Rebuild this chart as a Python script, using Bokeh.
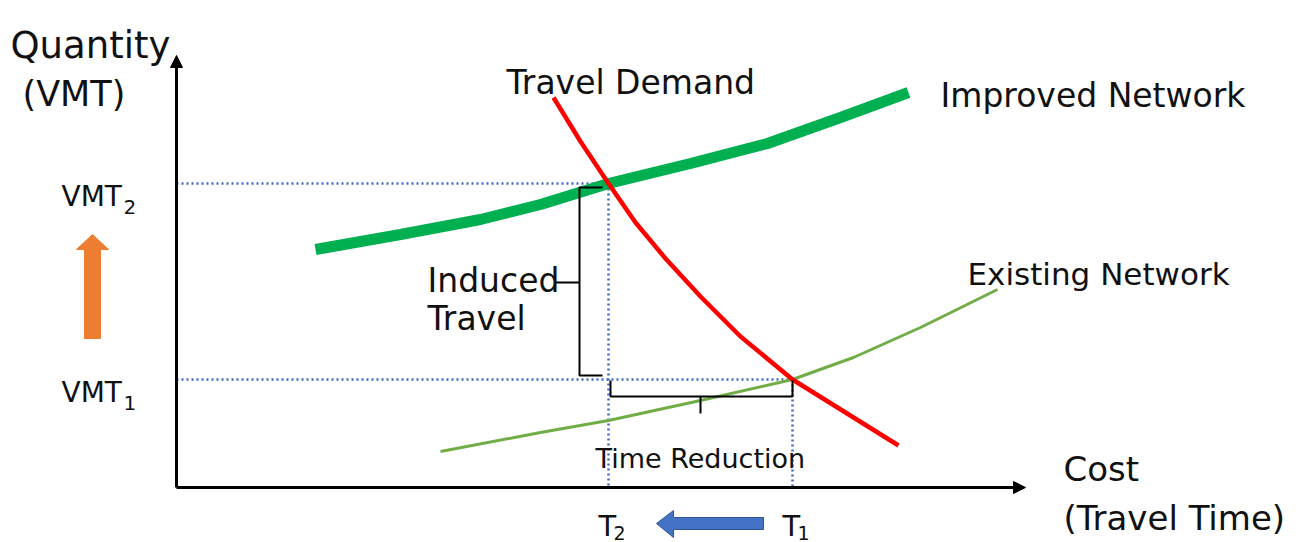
from bokeh.plotting import figure
from bokeh.models import Range1d, Arrow, NormalHead
from bokeh.core.properties import value
from bokeh.embed import file_html
from bokeh.resources import INLINE

# ---------------- data (cost = travel time, quantity = VMT) ----------------
improved_cost = [139, 224, 304, 364, 432, 514, 591, 664, 732]
improved_qty = [238, 253, 268, 283, 304, 324, 344, 370, 395]

demand_cost = [377, 404, 432, 459, 489, 524, 564, 616, 669, 722]
demand_qty = [390, 346, 304, 265, 229, 191, 151, 108, 75, 42]

existing_cost = [264, 364, 432, 524, 616, 677, 744, 821]
existing_qty = [36, 55, 67, 87, 108, 130, 160, 198]

T_levels = [432, 616]          # T2, T1
VMT_levels = [304, 108]        # VMT2, VMT1
T_labels = ["T", "T"]
T_subs = ["2", "1"]
VMT_labels = ["VMT", "VMT"]
VMT_subs = ["2", "1"]

axis_x_end = 849
axis_y_end = 432

FONT = value("DejaVu Sans")
TXT = "#111111"

W, H = 1310, 542
p = figure(width=W, height=H, x_range=Range1d(-176, -176 + W), y_range=Range1d(487 - H, 487),
           output_backend="svg", toolbar_location=None, min_border=0,
           x_axis_type=None, y_axis_type=None)
p.grid.visible = False
p.outline_line_color = None
p.background_fill_color = "white"
p.border_fill_color = "white"

# dotted guide lines
T2, T1 = T_levels
V2, V1 = VMT_levels
p.multi_line(xs=[[0, T2], [0, T1], [T2, T2], [T1, T1]],
             ys=[[V2, V2], [V1, V1], [V2, 0], [V1, 0]],
             line_color="#3F6AC0", line_width=2.5, line_dash="2 3")

# curves
p.line(existing_cost, existing_qty, line_color="#70AD47", line_width=3)
p.line(improved_cost, improved_qty, line_color="#00B050", line_width=11)
p.line(demand_cost, demand_qty, line_color="#FF0000", line_width=4.5, line_join="round")

# axes with arrow heads
p.add_layout(Arrow(x_start=0, y_start=0, x_end=0, y_end=axis_y_end, line_width=3, line_color="black",
                   end=NormalHead(size=12, fill_color="black", line_color="black")))
p.add_layout(Arrow(x_start=0, y_start=0, x_end=axis_x_end, y_end=0, line_width=3, line_color="black",
                   end=NormalHead(size=12, fill_color="black", line_color="black")))

# induced travel bracket
bx = T2 - 29
p.multi_line(xs=[[T2 - 6, bx, bx, T2 - 6], [bx, bx - 24]],
             ys=[[V2 - 4, V2 - 4, V1 + 4, V1 + 4], [205, 205]],
             line_color="black", line_width=2)
# time reduction bracket
by = V1 - 17
mid = (T2 + T1) / 2
p.multi_line(xs=[[T2 + 2, T2 + 2, T1, T1], [mid, mid]],
             ys=[[V1 - 1, by, by, V1 - 1], [by, by - 17]],
             line_color="black", line_width=2)

# orange block arrow (VMT increase)
p.patch(x=[-84, -68, -76, -76, -92, -92, -100],
        y=[253, 238, 238, 149, 149, 238, 238],
        fill_color="#ED7D31", line_color="#ED7D31")
# blue block arrow (time decrease)
p.patch(x=[480, 497, 497, 587, 587, 497, 497],
        y=[-36, -23, -30, -30, -42, -42, -50],
        fill_color="#4472C4", line_color="#2F5597", line_width=1)

# texts
def txt(x, y, t, size):
    p.text(x=x, y=y, text=t, text_font=FONT, text_font_size=size, text_color=TXT,
           text_baseline="alphabetic", text_align="left")

txt([-166], [442], ["Quantity"], "37px")
txt([-154], [394], ["(VMT)"], "35px")
txt([887], [19], ["Cost"], "34px")
txt([887], [-30], ["(Travel Time)"], "34px")
txt([330], [405], ["Travel Demand"], "33px")
txt([764], [392], ["Improved Network"], "33px")
txt([791], [214], ["Existing Network"], "31px")
txt([251, 251], [207, 169], ["Induced", "Travel"], "33px")
txt([419], [29], ["Time Reduction"], "27px")

txt([-115, -115], [v - 13 for v in VMT_levels], VMT_labels, "28px")
txt([-53, -53], [v - 23 for v in VMT_levels], VMT_subs, "20px")
txt([t - 10 for t in T_levels], [-38, -38], T_labels, "29px")
txt([t + 5 for t in T_levels], [-45, -45], T_subs, "19px")

open("out.html", "w").write(file_html(p, INLINE))
